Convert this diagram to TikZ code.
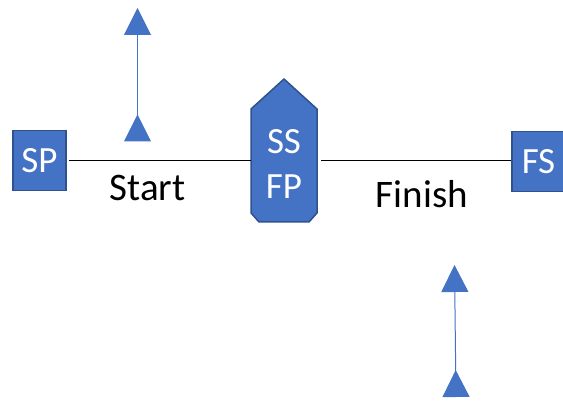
\documentclass[tikz,border=0pt]{standalone}
\usepackage{fontspec}
\setmainfont{Carlito}
\usetikzlibrary{arrows.meta}
\definecolor{officeblue}{HTML}{4472C4}
\definecolor{darkblue}{HTML}{2F528F}
\tikzset{
        box/.style={text=white, draw=darkblue, line width=1.5pt, fill=officeblue, minimum width=53pt, minimum height=60pt, inner sep=0pt, font=\fontsize{37}{40}\selectfont},
        hull/.style={draw=darkblue, line width=1.5pt, fill=officeblue, line join=round},
        hulltext/.style={text=white, align=center, inner sep=0pt, font=\fontsize{37}{45}\selectfont},
        caption/.style={text=black, inner sep=0pt, font=\fontsize{39}{43}\selectfont},
        wire/.style={draw=black, line width=0.9pt},
        pointer/.style={draw=officeblue, line width=1pt, {Triangle[reversed, length=27pt, width=27pt]}-{Triangle[length=27pt, width=27pt]}}
          }
\begin{document}
\begin{tikzpicture}[x=1pt, y=-1pt]
  \useasboundingbox (0,0) rectangle (563,403);
  % end points
  \node[box] (sp) at (39.5,160.5) {SP};
  \node[box] (fs) at (538.5,161.5) {FS};
  % the hull in the middle
  \draw[hull] (251,109) -- (284,79) -- (317,109) -- (317,213) -- (309,222) -- (259,222) -- (251,213) -- cycle;
  \node[hulltext] (ssfp) at (284,164) {SS\\FP};
  \coordinate (hullL) at (251,160.5);
  \coordinate (hullR) at (321,160.5);
  \draw[wire] ([xshift=2pt]sp.east) -- (hullL);
  \draw[wire] (hullR) -- (fs.west |- hullR);
  \node[caption] (start) at (147.5,188) {Start};
  \node[caption] (finish) at (422,194) {Finish};
  % the two marks
  \coordinate (upA-tail) at (137.5,141.5);
  \coordinate (upA-head) at (137.5,8);
  \coordinate (upB-tail) at (456,397);
  \coordinate (upB-head) at (454.5,265);
  \draw[pointer] (upA-tail) -- (upA-head);
  \draw[pointer] (upB-tail) -- (upB-head);
\end{tikzpicture}
\end{document}
